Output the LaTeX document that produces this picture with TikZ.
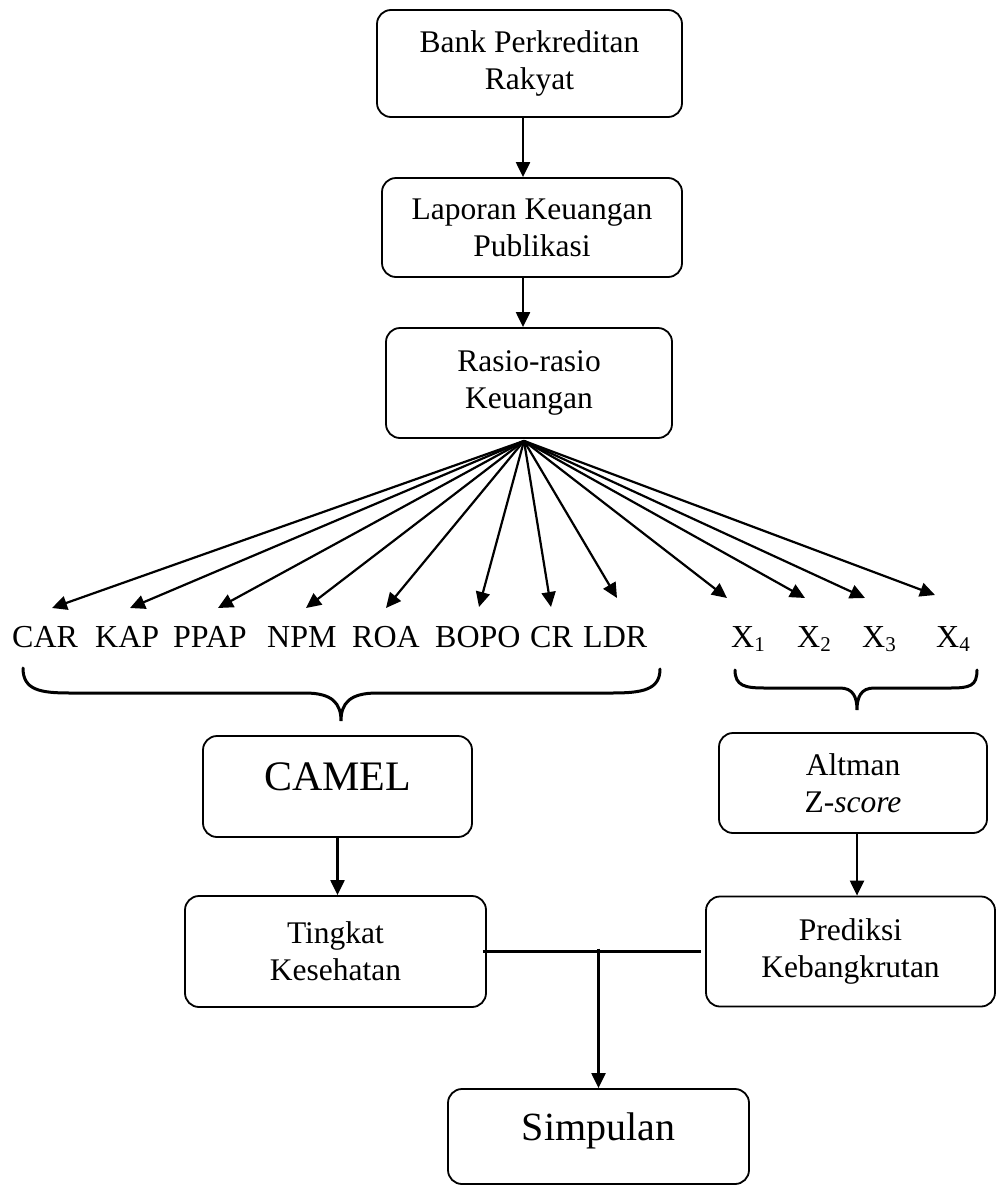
\documentclass[tikz,border=0pt]{standalone}
\usepackage{fontspec}
\setmainfont{Liberation Serif}
\usetikzlibrary{arrows.meta,calc}
\begin{document}
\begin{tikzpicture}[x=1pt,y=-1pt,
  box/.style={draw, line width=1.8pt, rounded corners=14pt, inner sep=0pt, align=center, font=\fontsize{31.5}{37}\selectfont},
  arr/.style={line width=2.2pt, -{Triangle[length=15pt,width=14pt]}},
  conn/.style={line width=2.2pt},
  lbl/.style={inner sep=0pt, anchor=base west, font=\fontsize{32}{37}\selectfont},
  brace/.style={line width=3pt, line cap=round},
]
\useasboundingbox (0,0) rectangle (998,1186);

% top chain
\node[box, minimum width=305pt, minimum height=107pt] (bpr) at (529.5,63.5) {Bank Perkreditan\\Rakyat};
\node[box, minimum width=300pt, minimum height=99pt] (lkp) at (532,227.5) {Laporan Keuangan\\Publikasi};
\node[box, minimum width=286pt, minimum height=110pt] (rrk) at (529,383) {Rasio-rasio\\Keuangan};
\coordinate (ax) at (523,0);
\draw[arr] (bpr.south -| ax) -- (lkp.north -| ax);
\draw[arr] (lkp.south -| ax) -- (rrk.north -| ax);

% fan
\coordinate (fo) at ($(rrk.south)+(-5,2)$);
\foreach \n/\x/\y in {tcar/52/608, tkap/130/608, tppap/218/608, tnpm/306/608, troa/386/608, tbopo/479/607, tcr/551/607, tldr/617/598, tx1/727/598, tx2/805/598, tx3/865/598, tx4/935/595}{
  \coordinate (\n) at (\x,\y);
  \draw[arr] (fo) -- (\n);
}

% labels
\node[lbl] (car) at (12,647) {CAR};
\node[lbl] (kap) at (95,647) {KAP};
\node[lbl] (ppap) at (173,647) {PPAP};
\node[lbl] (npm) at (267,647) {NPM};
\node[lbl] (roa) at (352,647) {ROA};
\node[lbl] (bopo) at (435,647) {BOPO};
\node[lbl] (cr) at (530,647) {CR};
\node[lbl] (ldr) at (583,647) {LDR};
\node[lbl] (x1) at (731,647) {X\raisebox{-4pt}{\fontsize{21}{21}\selectfont 1}};
\node[lbl] (x2) at (797,647) {X\raisebox{-4pt}{\fontsize{21}{21}\selectfont 2}};
\node[lbl] (x3) at (862,647) {X\raisebox{-4pt}{\fontsize{21}{21}\selectfont 3}};
\node[lbl] (x4) at (936,647) {X\raisebox{-4pt}{\fontsize{21}{21}\selectfont 4}};

% braces
\draw[brace] (23,668) .. controls (23,690) and (40,693) .. (70,693) -- (305,693)
  .. controls (332,693) and (341,703) .. (341,721)
  .. controls (341,703) and (350,693) .. (377,693) -- (612,693)
  .. controls (642,693) and (660,690) .. (660,669);
\draw[brace] (735,670) .. controls (735,686) and (745,688) .. (765,688) -- (840,688)
  .. controls (853,688) and (857,697) .. (857,710)
  .. controls (857,697) and (861,688) .. (874,688) -- (950,688)
  .. controls (970,688) and (977,686) .. (977,670);

% CAMEL branch
\node[box, minimum width=269pt, minimum height=101pt, font=\fontsize{42}{46}\selectfont, text height=30pt, text depth=23pt] (camel) at (337.5,786.5) {CAMEL};
\node[box, minimum width=301pt, minimum height=111pt] (ting) at (335.5,951.5) {Tingkat\\Kesehatan};
\draw[arr] (camel.south) -- (camel.south |- ting.north);

% Altman branch
\node[box, minimum width=268pt, minimum height=100pt] (alt) at (853,783) {Altman\\Z-\textit{score}};
\node[box, minimum width=289pt, minimum height=110pt] (pred) at (850.5,951.5) {Prediksi\\Kebangkrutan};
\coordinate (bx) at (857,0);
\draw[arr] (alt.south -| bx) -- (pred.north -| bx);

% conclusion
\node[box, minimum width=301pt, minimum height=95pt, font=\fontsize{40}{44}\selectfont, text height=29pt, text depth=22pt] (simp) at (598.5,1136.5) {Simpulan};
\draw[conn] ($(ting.east)+(-4,0)$) -- ($(pred.west)+(-4,0)$);
\draw[arr] ($(ting.east -| simp.north)+(0,-3)$) -- (simp.north);
\end{tikzpicture}
\end{document}
